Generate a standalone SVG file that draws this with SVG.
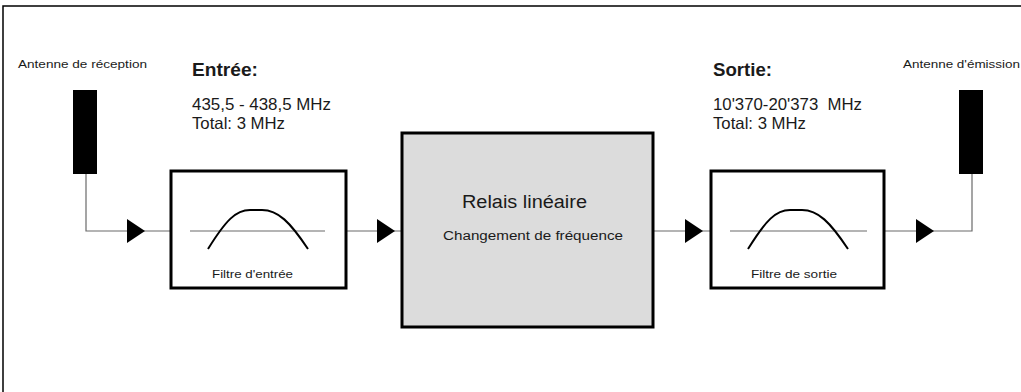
<svg xmlns="http://www.w3.org/2000/svg" width="1021" height="392" viewBox="0 0 1021 392">
<defs>
<style>
.t{font-family:"Liberation Sans",Arial,sans-serif;fill:#1a1a1a}
.h{font-weight:bold;font-size:18px}
.v{font-size:16.5px}
.s{font-size:11.5px}
.box{fill:#fff;stroke:#000;stroke-width:3}
.ant{fill:#000}
.wire{fill:none;stroke:#6a6a6a;stroke-width:1.2}
.curve{fill:none;stroke:#000;stroke-width:2}
.arr{fill:#000}
</style>
</defs>
<rect width="1021" height="392" fill="#fff"/>
<path d="M3,392 V6 H1021" fill="none" stroke="#000" stroke-width="1.5"/>

<g id="connectors">
<path class="wire" d="M86,174 V231 H171"/>
<polygon class="arr" points="127,219 145,231 127,243"/>
<path class="wire" d="M346,231 H402"/>
<polygon class="arr" points="377,219 395,231 377,243"/>
<path class="wire" d="M653,231 H711"/>
<polygon class="arr" points="685,219 703,231 685,243"/>
<path class="wire" d="M884,231 H972 V174"/>
<polygon class="arr" points="916,219 934,231 916,243"/>
</g>

<g id="antenne-reception">
<rect class="ant" x="73" y="90" width="24" height="84"/>
<text class="t s" x="18" y="68" textLength="129" lengthAdjust="spacingAndGlyphs">Antenne de réception</text>
</g>

<g id="entree-label">
<text class="t h" x="192" y="76" textLength="66" lengthAdjust="spacingAndGlyphs">Entrée:</text>
<text class="t v" x="192" y="110" textLength="139" lengthAdjust="spacingAndGlyphs">435,5 - 438,5 MHz</text>
<text class="t v" x="192" y="129" textLength="93" lengthAdjust="spacingAndGlyphs">Total: 3 MHz</text>
</g>

<g id="filtre-entree">
<rect class="box" x="171" y="171" width="175" height="117"/>
<line class="wire" x1="190" y1="231" x2="325" y2="231"/>
<path class="curve" d="M208,249 C226,220 236,210 250,210 L262,210 C278,210 290,222 308,249"/>
<text class="t s" x="212" y="278" textLength="81" lengthAdjust="spacingAndGlyphs">Filtre d'entrée</text>
</g>

<g id="relais">
<rect x="402" y="133" width="251" height="194" fill="#dcdcdc" stroke="#000" stroke-width="3"/>
<text class="t" x="462" y="208" font-size="18" textLength="125" lengthAdjust="spacingAndGlyphs">Relais linéaire</text>
<text class="t" x="443" y="240" font-size="12.5" textLength="180" lengthAdjust="spacingAndGlyphs">Changement de fréquence</text>
</g>

<g id="sortie-label">
<text class="t h" x="713" y="76" textLength="59" lengthAdjust="spacingAndGlyphs">Sortie:</text>
<text class="t v" x="713" y="110" textLength="149" lengthAdjust="spacingAndGlyphs" xml:space="preserve">10'370-20'373  MHz</text>
<text class="t v" x="713" y="129" textLength="93" lengthAdjust="spacingAndGlyphs">Total: 3 MHz</text>
</g>

<g id="filtre-sortie">
<rect class="box" x="711" y="171" width="173" height="117"/>
<line class="wire" x1="730" y1="231" x2="867" y2="231"/>
<path class="curve" d="M748,249 C766,220 776,210 790,210 L802,210 C818,210 830,222 848,249"/>
<text class="t s" x="751" y="278" textLength="86" lengthAdjust="spacingAndGlyphs">Filtre de sortie</text>
</g>

<g id="antenne-emission">
<rect class="ant" x="959" y="90" width="24" height="84"/>
<text class="t s" x="903" y="68" textLength="117" lengthAdjust="spacingAndGlyphs">Antenne d'émission</text>
</g>
</svg>
